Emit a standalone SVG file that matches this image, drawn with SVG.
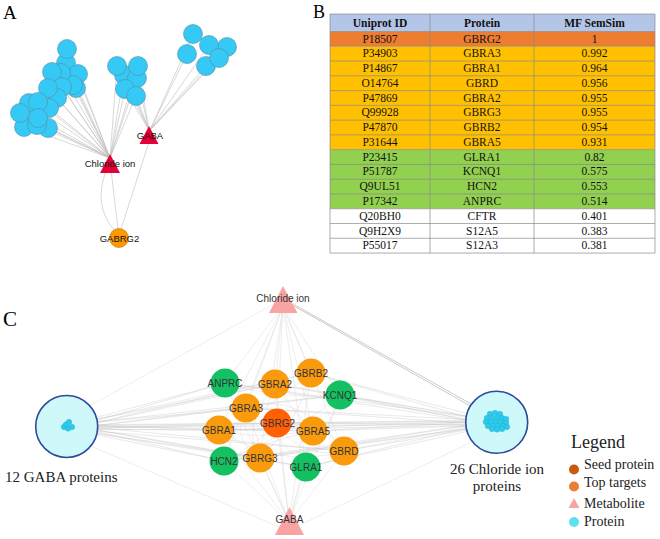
<svg xmlns="http://www.w3.org/2000/svg" width="660" height="539" viewBox="0 0 660 539">
<style>
.bg{fill:#ffffff}
.ea{stroke:#bdbdbd;stroke-width:0.6;fill:none}
.ec{stroke:#c4c4c4;stroke-width:0.5;fill:none;opacity:0.75}
.ec2{stroke:#d0d0d0;stroke-width:0.45;fill:none;opacity:0.8}
.pa{fill:#35C9F6;stroke:#5a8aa0;stroke-width:0.6}
.tria{fill:#E6003A}
.seedA{fill:#FF9900;stroke:#c57800;stroke-width:0.6}
.la{font-family:"Liberation Sans",Arial,sans-serif;font-size:9.5px;text-anchor:middle;fill:#111}
.lc{font-family:"Liberation Sans",Arial,sans-serif;font-size:10px;text-anchor:middle;fill:#333}
.panel{font-family:"Liberation Serif","Times New Roman",serif;fill:#000}
.tt{font-family:"Liberation Serif","Times New Roman",serif;font-size:11.5px;text-anchor:middle;fill:#111}
.th{font-family:"Liberation Serif","Times New Roman",serif;font-size:11.5px;font-weight:bold;text-anchor:middle;fill:#111}
.grid{stroke:#8a8a8a;stroke-width:0.7;fill:none}
.big{fill:#CFF8FB;stroke:#2E4A9A;stroke-width:1.6}
.sm{fill:#2CCBEC;stroke:#1b9fc4;stroke-width:0.3}
.tric{fill:#F9A3A3}
.o{fill:#FA9B0E}
.s{fill:#FF6005}
.g{fill:#14C162}
.serif{font-family:"Liberation Serif","Times New Roman",serif;fill:#222}
</style>
<rect class="bg" x="0" y="0" width="660" height="539"/>

<!-- Panel labels -->
<text class="panel" x="3" y="19" font-size="19">A</text>
<text class="panel" x="313" y="18" font-size="18">B</text>
<text class="panel" x="3" y="326" font-size="21">C</text>

<!-- ===== Panel A ===== -->
<g id="panelA-connectors">
<path class="ea" d="M67 49L110 158M66 63L110 158M52 72L110 158M61 73L110 158M78 74L110 158M73 85L110 158M76 88L110 158M62 87L110 158M48 88L110 158M57 98L110 158M29 103L110 158M38 102L110 158M49 108L110 158M20 113L110 158M24 127L110 158M38 118L110 158M37 125L110 158M48 128L110 158"/>
<path class="ea" d="M117 66L110 158M124 73L110 158M138 66L110 158M137 78L110 158M125 90L110 158M136 96L110 158M117 66L149 130M124 73L149 130M137 78L149 130M125 90L149 130M136 96L149 130M138 66L149 130"/>
<path class="ea" d="M193 34L150 130M187 54L150 130M209 45L150 130M227 47L150 130M206 66L150 130M219 58L150 130"/>
<path class="ea" d="M111 170L118 229M106 171Q93 205 114 230M149 142L121 229"/>
</g>
<g id="panelA-proteins">
<circle class="pa" cx="66" cy="63" r="9.5"/>
<circle class="pa" cx="67" cy="49" r="9.5"/>
<circle class="pa" cx="78" cy="74" r="9.5"/>
<circle class="pa" cx="76" cy="88" r="9.5"/>
<circle class="pa" cx="73" cy="85" r="9.5"/>
<circle class="pa" cx="61" cy="73" r="9.5"/>
<circle class="pa" cx="52" cy="72" r="9.5"/>
<circle class="pa" cx="62" cy="87" r="9.5"/>
<circle class="pa" cx="57" cy="98" r="9.5"/>
<circle class="pa" cx="48" cy="88" r="9.5"/>
<circle class="pa" cx="49" cy="108" r="9.5"/>
<circle class="pa" cx="29" cy="103" r="9.5"/>
<circle class="pa" cx="38" cy="102" r="9.5"/>
<circle class="pa" cx="24" cy="127" r="9.5"/>
<circle class="pa" cx="48" cy="128" r="9.5"/>
<circle class="pa" cx="37" cy="125" r="9.5"/>
<circle class="pa" cx="20" cy="113" r="9.5"/>
<circle class="pa" cx="38" cy="118" r="9.5"/>
<circle class="pa" cx="124" cy="75" r="9.5"/>
<circle class="pa" cx="117" cy="66" r="9.5"/>
<circle class="pa" cx="137" cy="78" r="9.5"/>
<circle class="pa" cx="138" cy="66" r="9.5"/>
<circle class="pa" cx="125" cy="89" r="9.5"/>
<circle class="pa" cx="136" cy="96" r="9.5"/>
<circle class="pa" cx="193" cy="34" r="9.5"/>
<circle class="pa" cx="187" cy="54" r="9.5"/>
<circle class="pa" cx="227" cy="47" r="9.5"/>
<circle class="pa" cx="209" cy="45" r="9.5"/>
<circle class="pa" cx="206" cy="66" r="9.5"/>
<circle class="pa" cx="219" cy="58" r="9.5"/>
</g>
<g id="A-chloride">
<polygon class="tria" points="110,154 100,173 120,173"/>
<text class="la" x="110" y="167">Chloride ion</text>
</g>
<g id="A-gaba">
<polygon class="tria" points="149,126 139.5,144 158.5,144"/>
<text class="la" x="150" y="138.5">GABA</text>
</g>
<g id="A-gabrg2">
<circle class="seedA" cx="119" cy="238" r="9.5"/>
<text class="la" x="119.5" y="241.5">GABRG2</text>
</g>

<!-- ===== Panel B (table) ===== -->
<g id="table">
<rect x="330" y="14" width="325" height="17.5" fill="#B4C6E7"/>
<rect x="330" y="31.5" width="325" height="14.77" fill="#ED7D31"/>
<rect x="330" y="46.27" width="325" height="103.39" fill="#FFC000"/>
<rect x="330" y="149.66" width="325" height="59.08" fill="#92D050"/>
<rect x="330" y="208.74" width="325" height="44.31" fill="#FFFFFF"/>
<path class="grid" d="M330 14H655V253.05H330ZM430 14V253.05M534 14V253.05M330 31.5H655M330 46.27H655M330 61.04H655M330 75.81H655M330 90.58H655M330 105.35H655M330 120.12H655M330 134.89H655M330 149.66H655M330 164.43H655M330 179.2H655M330 193.97H655M330 208.74H655M330 223.51H655M330 238.28H655"/>
<text class="th" x="380" y="27">Uniprot ID</text>
<text class="th" x="482" y="27">Protein</text>
<text class="th" x="594.5" y="27">MF SemSim</text>
<g class="tt">
<text x="380" y="42.5">P18507</text><text x="482" y="42.5">GBRG2</text><text x="594.5" y="42.5">1</text>
<text x="380" y="57.3">P34903</text><text x="482" y="57.3">GBRA3</text><text x="594.5" y="57.3">0.992</text>
<text x="380" y="72">P14867</text><text x="482" y="72">GBRA1</text><text x="594.5" y="72">0.964</text>
<text x="380" y="86.8">O14764</text><text x="482" y="86.8">GBRD</text><text x="594.5" y="86.8">0.956</text>
<text x="380" y="101.6">P47869</text><text x="482" y="101.6">GBRA2</text><text x="594.5" y="101.6">0.955</text>
<text x="380" y="116.3">Q99928</text><text x="482" y="116.3">GBRG3</text><text x="594.5" y="116.3">0.955</text>
<text x="380" y="131.1">P47870</text><text x="482" y="131.1">GBRB2</text><text x="594.5" y="131.1">0.954</text>
<text x="380" y="145.9">P31644</text><text x="482" y="145.9">GBRA5</text><text x="594.5" y="145.9">0.931</text>
<text x="380" y="160.6">P23415</text><text x="482" y="160.6">GLRA1</text><text x="594.5" y="160.6">0.82</text>
<text x="380" y="175.4">P51787</text><text x="482" y="175.4">KCNQ1</text><text x="594.5" y="175.4">0.575</text>
<text x="380" y="190.2">Q9UL51</text><text x="482" y="190.2">HCN2</text><text x="594.5" y="190.2">0.553</text>
<text x="380" y="204.9">P17342</text><text x="482" y="204.9">ANPRC</text><text x="594.5" y="204.9">0.514</text>
<text x="380" y="219.7">Q20BH0</text><text x="482" y="219.7">CFTR</text><text x="594.5" y="219.7">0.401</text>
<text x="380" y="234.5">Q9H2X9</text><text x="482" y="234.5">S12A5</text><text x="594.5" y="234.5">0.383</text>
<text x="380" y="249.2">P55017</text><text x="482" y="249.2">S12A3</text><text x="594.5" y="249.2">0.381</text>
</g>
</g>

<!-- ===== Panel C ===== -->
<g id="panelC-connectors">
<path class="ec" d="M68 425L225 383M68 425L275 384M68 425L311 373M68 425L340 395M68 425L246 408M68 425L277 423M68 425L313 431M68 425L219 430M68 425L344 451M68 425L224 461M68 425L260 458M68 425L306 467"/>
<path class="ec" d="M68 429L225 383M68 429L275 384M68 429L311 373M68 429L340 395M68 429L246 408M68 429L277 423M68 429L313 431M68 429L219 430M68 429L344 451M68 429L224 461M68 429L260 458M68 429L306 467M70 427L494 422M70 426L494 420M70 428L494 424"/>
<path class="ec" d="M496 421L225 383M496 421L275 384M496 421L311 373M496 421L340 395M496 421L246 408M496 421L277 423M496 421L313 431M496 421L219 430M496 421L344 451M496 421L224 461M496 421L260 458M496 421L306 467"/>
<path class="ec" d="M496 425L225 383M496 425L275 384M496 425L311 373M496 425L340 395M496 425L246 408M496 425L277 423M496 425L313 431M496 425L219 430M496 425L344 451M496 425L224 461M496 425L260 458M496 425L306 467"/>
<path class="ec2" d="M283 306L225 383M283 306L275 384M283 306L311 373M283 306L340 395M283 306L246 408M283 306L277 423M283 306L313 431M283 306L219 430M283 306L344 451M283 306L224 461M283 306L260 458M283 306L306 467"/>
<path class="ec2" d="M289 522L225 383M289 522L275 384M289 522L311 373M289 522L340 395M289 522L246 408M289 522L277 423M289 522L313 431M289 522L219 430M289 522L344 451M289 522L224 461M289 522L260 458M289 522L306 467"/>
<path class="ec2" d="M225 383Q250 420 277 423M275 384Q300 420 313 431M219 430Q250 440 313 431M246 408Q280 440 306 467M311 373Q300 420 260 458M340 395Q300 430 224 461M225 383Q280 400 340 395M219 430Q280 470 344 451M246 408Q300 390 344 451M275 384Q240 430 260 458M224 461Q270 440 313 431M311 373Q270 410 219 430M277 423Q300 460 344 451M277 423Q250 450 224 461M246 408Q230 440 260 458M340 395Q330 430 306 467"/>
<path class="ec2" d="M272 305L82 410M279 527L86 444M300 525L484 436"/>
<path d="M293 304L489 414M294 306L488 416" stroke="#bcbcbc" stroke-width="0.8" fill="none"/>
</g>

<g id="gaba-proteins">
<circle class="big" cx="66.7" cy="426.5" r="31"/>
<circle class="sm" cx="64" cy="427" r="2.8"/>
<circle class="sm" cx="72" cy="427" r="2.8"/>
<circle class="sm" cx="68" cy="428.5" r="2.8"/>
<circle class="sm" cx="66" cy="424.5" r="2.8"/>
<circle class="sm" cx="69" cy="422" r="2.8"/>
<text class="serif" x="5" y="482" font-size="15">12 GABA proteins</text>
</g>

<g id="chloride-proteins">
<circle class="big" cx="496.7" cy="422.3" r="31"/>
<circle class="sm" cx="490" cy="414" r="2.8"/>
<circle class="sm" cx="495" cy="413" r="2.8"/>
<circle class="sm" cx="500" cy="414" r="2.8"/>
<circle class="sm" cx="487" cy="418" r="2.8"/>
<circle class="sm" cx="492" cy="418" r="2.8"/>
<circle class="sm" cx="497" cy="418" r="2.8"/>
<circle class="sm" cx="502" cy="418" r="2.8"/>
<circle class="sm" cx="506" cy="419" r="2.8"/>
<circle class="sm" cx="486" cy="422" r="2.8"/>
<circle class="sm" cx="491" cy="422" r="2.8"/>
<circle class="sm" cx="496" cy="422" r="2.8"/>
<circle class="sm" cx="501" cy="422" r="2.8"/>
<circle class="sm" cx="506" cy="423" r="2.8"/>
<circle class="sm" cx="488" cy="426" r="2.8"/>
<circle class="sm" cx="493" cy="426" r="2.8"/>
<circle class="sm" cx="498" cy="426" r="2.8"/>
<circle class="sm" cx="503" cy="426" r="2.8"/>
<circle class="sm" cx="507" cy="427" r="2.8"/>
<circle class="sm" cx="492" cy="429" r="2.8"/>
<circle class="sm" cx="497" cy="429.5" r="2.8"/>
<circle class="sm" cx="502" cy="429" r="2.8"/>
<text class="serif" x="497" y="474" font-size="15" text-anchor="middle">26 Chloride ion</text>
<text class="serif" x="497" y="491" font-size="15" text-anchor="middle">proteins</text>
</g>

<g id="C-chloride">
<polygon class="tric" points="283,286 269,313 297.5,313"/>
<text class="lc" x="283" y="302">Chloride ion</text>
</g>
<g id="C-gaba">
<polygon class="tric" points="289.5,507 275,535 304,535"/>
<text class="lc" x="289.5" y="523">GABA</text>
</g>

<g id="ANPRC"><circle class="g" cx="225" cy="383" r="14.5"/><text class="lc" x="225" y="386.5">ANPRC</text></g>
<g id="GBRA2"><circle class="o" cx="275" cy="384" r="14.5"/><text class="lc" x="275" y="387.5">GBRA2</text></g>
<g id="GBRB2"><circle class="o" cx="311" cy="373" r="14.5"/><text class="lc" x="311" y="376.5">GBRB2</text></g>
<g id="KCNQ1"><circle class="g" cx="340" cy="395" r="14.5"/><text class="lc" x="340" y="398.5">KCNQ1</text></g>
<g id="GBRA3"><circle class="o" cx="246" cy="408" r="14.5"/><text class="lc" x="246" y="411.5">GBRA3</text></g>
<g id="GBRG2"><circle class="s" cx="277" cy="423" r="14.5"/><text class="lc" x="277.5" y="426.5">GBRG2</text></g>
<g id="GBRA5"><circle class="o" cx="313" cy="431" r="14.5"/><text class="lc" x="313" y="434.5">GBRA5</text></g>
<g id="GBRA1"><circle class="o" cx="219" cy="430" r="14.5"/><text class="lc" x="219" y="433.5">GBRA1</text></g>
<g id="GBRD"><circle class="o" cx="344" cy="451" r="14.5"/><text class="lc" x="344" y="454.5">GBRD</text></g>
<g id="HCN2"><circle class="g" cx="224" cy="461" r="14.5"/><text class="lc" x="224" y="464.5">HCN2</text></g>
<g id="GBRG3"><circle class="o" cx="260" cy="458" r="14.5"/><text class="lc" x="260" y="461.5">GBRG3</text></g>
<g id="GLRA1"><circle class="g" cx="306" cy="467" r="14.5"/><text class="lc" x="306" y="470.5">GLRA1</text></g>

<g id="legend">
<text class="serif" x="571" y="448" font-size="18">Legend</text>
<circle cx="574" cy="469.5" r="5" fill="#C55A11"/>
<text class="serif" x="584" y="469" font-size="14">Seed protein</text>
<circle cx="574" cy="486.5" r="5" fill="#ED7D31"/>
<text class="serif" x="584" y="487" font-size="14">Top targets</text>
<polygon points="574,498 568.5,508 579.5,508" fill="#F9A3A3"/>
<text class="serif" x="584" y="507.5" font-size="14">Metabolite</text>
<circle cx="574" cy="522" r="5" fill="#5FE0EC"/>
<text class="serif" x="584" y="525.5" font-size="14">Protein</text>
</g>
</svg>
